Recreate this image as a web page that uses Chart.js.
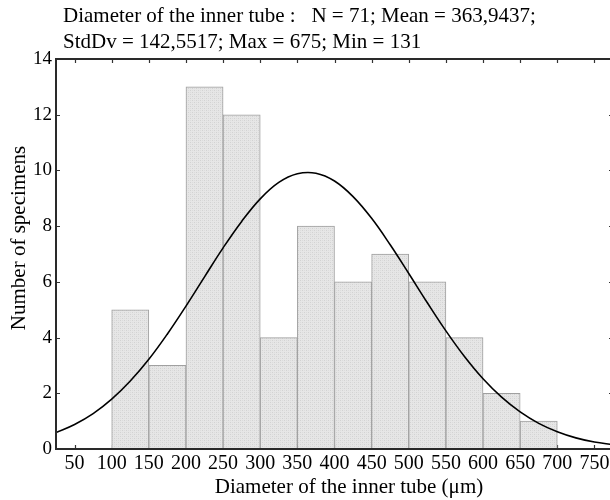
<!DOCTYPE html>
<html>
<head>
<meta charset="utf-8">
<script src="https://cdn.jsdelivr.net/npm/chart.js@4"></script>
<style>
  html, body { margin: 0; padding: 0; background: #fff; overflow: hidden; }
  #wrap { width: 610px; height: 500px; overflow: hidden; }
  #box { width: 620px; height: 500px; }
</style>
</head>
<body>
<div id="wrap"><div id="box"><canvas id="histChart"></canvas></div></div>
<script>
// datos del histograma (clases de 50 µm)
const binLow  = [100, 150, 200, 250, 300, 350, 400, 450, 500, 550, 600, 650];
const binHigh = [150, 200, 250, 300, 350, 400, 450, 500, 550, 600, 650, 700];
const counts  = [5, 3, 13, 12, 4, 8, 6, 7, 6, 4, 2, 1];

// curva normal
const curveX = [25, 50, 75, 100, 125, 150, 175, 200, 225, 250, 275, 300, 325, 350, 375,
                400, 425, 450, 475, 500, 525, 550, 575, 600, 625, 650, 675, 700, 725, 750, 775];
const curveY = [0.59, 0.88, 1.27, 1.79, 2.44, 3.22, 4.13, 5.13, 6.18, 7.22, 8.17, 8.98, 9.57, 9.88, 9.90,
                9.62, 9.06, 8.28, 7.33, 6.30, 5.25, 4.24, 3.32, 2.52, 1.86, 1.33, 0.92, 0.62, 0.40, 0.25, 0.16];

// etiquetas de los ejes
const xTicks = [50, 100, 150, 200, 250, 300, 350, 400, 450, 500, 550, 600, 650, 700, 750];
const yTicks = [0, 2, 4, 6, 8, 10, 12, 14];

const titleLines = [
    "Diameter of the inner tube :   N = 71; Mean = 363,9437;",
    "StdDv = 142,5517; Max = 675; Min = 131"
];
const xTitle = "Diameter of the inner tube (μm)";
const yTitle = "Number of specimens";

const FONT = "'Liberation Serif', 'DejaVu Serif', serif";

// patrón punteado de las barras
function makePattern() {
    const c = document.createElement('canvas');
    c.width = 4; c.height = 4;
    const g = c.getContext('2d');
    g.fillStyle = '#e6e6e6';
    g.fillRect(0, 0, 4, 4);
    g.fillStyle = '#d2d2d2';
    g.fillRect(0, 0, 1, 1);
    g.fillRect(2, 2, 1, 1);
    g.fillStyle = '#dcdcdc';
    g.fillRect(2, 0, 1, 1);
    g.fillRect(0, 2, 1, 1);
    return g.createPattern(c, 'repeat');
}

// marcas interiores, marco y textos
const extras = {
    id: 'extras',
    beforeDatasetsDraw(chart) {
        const {ctx, chartArea: a, scales} = chart;
        ctx.save();
        ctx.strokeStyle = '#333';
        ctx.lineWidth = 1.2;
        ctx.beginPath();
        xTicks.forEach(v => {
            const px = Math.round(scales.x.getPixelForValue(v)) + 0.5;
            ctx.moveTo(px, a.bottom); ctx.lineTo(px, a.bottom - 4);
            ctx.moveTo(px, a.top); ctx.lineTo(px, a.top + 4);
        });
        yTicks.forEach(v => {
            const py = Math.round(scales.y.getPixelForValue(v)) + 0.5;
            ctx.moveTo(a.left, py); ctx.lineTo(a.left + 4, py);
            ctx.moveTo(a.right, py); ctx.lineTo(a.right - 4, py);
        });
        ctx.stroke();
        ctx.restore();
    },
    afterDatasetsDraw(chart) {
        const {ctx, chartArea: a} = chart;
        ctx.save();
        ctx.strokeStyle = '#2a2a2a';
        ctx.lineWidth = 2;
        ctx.strokeRect(a.left, a.top, a.right - a.left, a.bottom - a.top);
        ctx.restore();
    },
    afterDraw(chart) {
        const {ctx} = chart;
        ctx.save();
        ctx.fillStyle = '#000';
        ctx.font = "21px " + FONT;
        ctx.textBaseline = 'alphabetic';
        ctx.textAlign = 'left';
        ctx.fillText(titleLines[0], 63, 22);
        ctx.fillText(titleLines[1], 63, 48);
        // títulos de ejes
        ctx.textAlign = 'center';
        ctx.fillText(xTitle, 349, 493);
        ctx.translate(25, 238);
        ctx.rotate(-Math.PI / 2);
        ctx.fillText(yTitle, 0, 0);
        ctx.restore();
    }
};

new Chart(document.getElementById('histChart'), {
    type: 'bar',
    data: {
        datasets: [{
            type: 'line',
            data: curveX.map((x, i) => ({x: x, y: curveY[i]})),
            borderColor: '#000',
            borderWidth: 1.6,
            pointRadius: 0,
            tension: 0.4,
            fill: false,
            order: 0
        }, {
            type: 'bar',
            data: counts.map((c, i) => ({x: (binLow[i] + binHigh[i]) / 2, y: c})),
            backgroundColor: makePattern(),
            borderColor: '#a0a0a0',
            borderWidth: 1,
            borderSkipped: false,
            barPercentage: 1,
            categoryPercentage: 1,
            order: 1
        }]
    },
    options: {
        responsive: true,
        maintainAspectRatio: false,
        animation: false,
        layout: { padding: { top: 59, right: 7, left: 0, bottom: 0 } },
        plugins: { legend: { display: false }, tooltip: { enabled: false } },
        scales: {
            x: {
                type: 'linear',
                offset: false,
                min: 25,
                max: 775,
                grid: { display: false, drawTicks: false },
                border: { display: false },
                afterBuildTicks: s => { s.ticks = xTicks.map(v => ({value: v})); },
                afterFit: s => { s.height = 51; },
                ticks: { color: '#000', padding: 3, maxRotation: 0, autoSkip: false, font: { family: FONT, size: 20 } }
            },
            y: {
                min: 0,
                max: 14,
                grid: { display: false, drawTicks: false },
                border: { display: false },
                afterBuildTicks: s => { s.ticks = yTicks.map(v => ({value: v})); },
                afterFit: s => { s.width = 56; },
                ticks: { color: '#000', padding: 4, font: { family: FONT, size: 19 } }
            }
        }
    },
    plugins: [extras]
});
</script>
</body>
</html>
